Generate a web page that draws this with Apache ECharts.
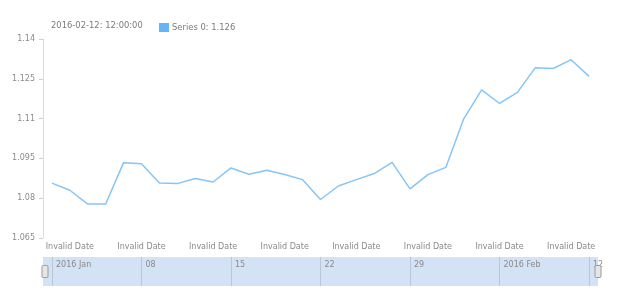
<!DOCTYPE html>
<html>
<head>
<meta charset="utf-8">
<script src="https://cdn.jsdelivr.net/npm/echarts@6/dist/echarts.min.js"></script>
<style>html,body{margin:0;padding:0;background:#fff;}#c{width:620px;height:300px;}</style>
</head>
<body>
<div id="c"></div>
<script>
var dates = ['2016-01-01','2016-01-04','2016-01-05','2016-01-06','2016-01-07','2016-01-08',
  '2016-01-11','2016-01-12','2016-01-13','2016-01-14','2016-01-15',
  '2016-01-18','2016-01-19','2016-01-20','2016-01-21','2016-01-22',
  '2016-01-25','2016-01-26','2016-01-27','2016-01-28','2016-01-29',
  '2016-02-01','2016-02-02','2016-02-03','2016-02-04','2016-02-05',
  '2016-02-08','2016-02-09','2016-02-10','2016-02-11','2016-02-12'];
var series0 = [1.0857,1.0830,1.0778,1.0778,1.0934,1.0930,
  1.0857,1.0855,1.0874,1.0861,1.0914,
  1.0890,1.0905,1.0889,1.0870,1.0795,
  1.0846,1.0870,1.0893,1.0935,1.0835,
  1.0889,1.0916,1.1099,1.1208,1.1157,
  1.1199,1.1292,1.1289,1.1322,1.1259];
var seriesName = 'Series 0';
var headerText = '2016-02-12: 12:00:00';
var xTickLabel = 'Invalid Date';
var monthNames = ['Jan','Feb','Mar','Apr','May','Jun','Jul','Aug','Sep','Oct','Nov','Dec'];

var FONT = 'DejaVu Sans';
var chart = echarts.init(document.getElementById('c'), null, {renderer: 'canvas'});
var lastVal = series0[series0.length - 1];

function bandLabel(v, idx) {
  var p = v.split('-');
  var d = parseInt(p[2], 10);
  var m = parseInt(p[1], 10) - 1;
  var prevIdx = idx - 5;
  if (prevIdx < 0 || dates[prevIdx].split('-')[1] !== p[1]) return p[0] + ' ' + monthNames[m];
  return (d < 10 ? '0' : '') + d;
}

chart.setOption({
  animation: false,
  title: {
    text: headerText, left: 46, top: 17,
    textStyle: {fontFamily: FONT, fontSize: 8.4, fontWeight: 'normal', color: '#7a7a7a'}
  },
  legend: {
    left: 154, top: 18, itemWidth: 10, itemHeight: 9, icon: 'rect',
    data: [{name: seriesName, itemStyle: {color: '#64b5f6'}}],
    formatter: function (n) { return n + ': ' + lastVal.toFixed(3); },
    textStyle: {fontFamily: FONT, fontSize: 8.4, color: '#7a7a7a', padding: [0, 0, 0, -2]}
  },
  grid: [
    {left: 43, right: 22, top: 39, bottom: 62},
    {left: 43, right: 22, top: 257, height: 29, show: true, backgroundColor: '#d3e2f4', borderWidth: 0},
    {left: 52, right: 31, top: 257, height: 29}
  ],
  xAxis: [
    {
      type: 'category', gridIndex: 0, data: dates, boundaryGap: true,
      axisLine: {show: false}, axisTick: {show: false},
      axisLabel: {
        interval: function (i) { return i % 4 === 1; },
        formatter: function () { return xTickLabel; },
        fontFamily: FONT, fontSize: 8, color: '#8a8a8a', margin: 5
      }
    },
    {type: 'category', gridIndex: 1, data: dates, show: false},
    {
      type: 'category', gridIndex: 2, data: dates, boundaryGap: false, position: 'top',
      axisLine: {show: false}, axisTick: {show: false},
      splitLine: {show: true, interval: function (i) { return i % 5 === 0; },
        lineStyle: {color: '#b9c6d6', width: 1}},
      axisLabel: {
        inside: true, align: 'left', margin: 4, padding: [0, 0, 0, 4],
        interval: function (i) { return i % 5 === 0; },
        formatter: bandLabel,
        fontFamily: FONT, fontSize: 8, color: '#8a8a8a'
      }
    }
  ],
  yAxis: [
    {
      type: 'value', gridIndex: 0, min: 1.065, max: 1.14, interval: 0.015,
      splitLine: {show: false},
      axisLine: {show: true, lineStyle: {color: '#dcdcdc'}},
      axisTick: {show: true, length: 4, lineStyle: {color: '#cfcfcf'}},
      axisLabel: {
        formatter: function (v) { return String(parseFloat(v.toFixed(3))); },
        fontFamily: FONT, fontSize: 8, color: '#8a8a8a', margin: 8
      }
    },
    {type: 'value', gridIndex: 1, show: false},
    {type: 'value', gridIndex: 2, show: false}
  ],
  dataZoom: [{
    type: 'slider', xAxisIndex: 0, start: 0, end: 100,
    left: 43, right: 22, top: 257, height: 29,
    backgroundColor: 'rgba(0,0,0,0)', borderColor: 'rgba(0,0,0,0)',
    fillerColor: 'rgba(0,0,0,0)',
    showDetail: false, showDataShadow: false, brushSelect: false,
    moveHandleSize: 0,
    dataBackground: {lineStyle: {opacity: 0}, areaStyle: {opacity: 0}},
    selectedDataBackground: {lineStyle: {opacity: 0}, areaStyle: {opacity: 0}},
    handleIcon: 'path://M1,0 H4 A1,1 0 0 1 5,1 V9 A1,1 0 0 1 4,10 H1 A1,1 0 0 1 0,9 V1 A1,1 0 0 1 1,0 Z',
    handleSize: 12,
    handleStyle: {color: '#e6e6e6', borderColor: '#9a9a9a', borderWidth: 1},
    emphasis: {handleStyle: {color: '#e6e6e6', borderColor: '#9a9a9a'}}
  }],
  series: [{
    name: seriesName, type: 'line', xAxisIndex: 0, yAxisIndex: 0,
    data: series0, showSymbol: false, symbol: 'none',
    lineStyle: {color: '#86c5f7', width: 1.5},
    itemStyle: {color: '#64b5f6'},
    emphasis: {disabled: true}
  }]
});
</script>
</body>
</html>
